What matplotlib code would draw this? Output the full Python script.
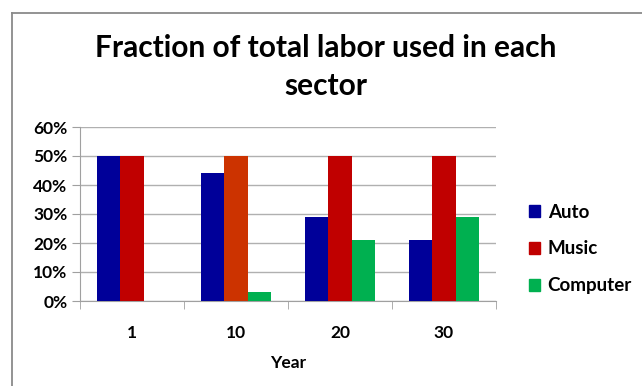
import numpy as np
import matplotlib
matplotlib.use("Agg")
import matplotlib.pyplot as plt
from matplotlib.patches import Rectangle
from matplotlib.lines import Line2D

# data
years = ["1", "10", "20", "30"]
auto = [50, 44, 29, 21]
music = [50, 50, 50, 50]
computer = [0, 3, 21, 29]
series_names = ["Auto", "Music", "Computer"]
yticks = [0, 10, 20, 30, 40, 50, 60]

c_auto = "#000099"
c_music = "#C00000"
c_computer = "#00B050"
music_colors = [c_music, "#CC3300", c_music, c_music]

plt.rcParams['font.family'] = ['Lato', 'DejaVu Sans']

fig = plt.figure(figsize=(6.42, 3.86), dpi=100)

# outer chart frame
fig.add_artist(Line2D([12 / 642, 12 / 642], [0, 1 - 13 / 386], color="#8a8a8a", lw=1.3))
fig.add_artist(Line2D([12 / 642, 1], [1 - 13 / 386, 1 - 13 / 386], color="#8a8a8a", lw=1.3))

ax = fig.add_axes([80 / 642, 1 - 301 / 386, 416 / 642, 174 / 386])

x = np.arange(len(years))
w = 1 / 4.5
ax.bar(x - w, auto, w, color=c_auto, zorder=3)
ax.bar(x, music, w, color=music_colors, zorder=3)
ax.bar(x + w, computer, w, color=c_computer, zorder=3)

ax.set_xlim(-0.5, len(years) - 0.5)
ax.set_ylim(0, 60)
ax.set_yticks(yticks)
ax.set_yticklabels([f"{v}%" for v in yticks], fontsize=12.5, fontweight="bold")
ax.yaxis.grid(True, color="#b0b0b0", lw=1, zorder=0)

ax.set_xticks(x)
ax.set_xticklabels(years, fontsize=12.5, fontweight="bold")
ax.tick_params(axis="x", length=0, pad=17)
ax.set_xticks(np.arange(-0.5, len(years)), minor=True)
ax.tick_params(axis="x", which="minor", length=6, color="#a0a0a0")
ax.tick_params(axis="y", length=6, color="#a0a0a0", pad=3)

for s in ["top", "right"]:
    ax.spines[s].set_visible(False)
for s in ["left", "bottom"]:
    ax.spines[s].set_color("#a0a0a0")

ax.set_xlabel("Year", fontsize=12.5, fontweight="bold", labelpad=10)

fig.text(326 / 642, 1 - 67 / 386, "Fraction of total labor used in each\nsector",
         ha="center", va="center", fontsize=21.5, fontweight="bold", linespacing=1.4)

# legend
handles = [Rectangle((0, 0), 1, 1, color=c) for c in [c_auto, c_music, c_computer]]
fig.legend(handles, series_names, loc="center left", bbox_to_anchor=(512 / 642, 1 - 249 / 386),
           frameon=False, prop={"size": 13.5, "weight": "bold"}, handlelength=0.6,
           handleheight=0.6, handletextpad=0.4, labelspacing=1.05)

fig.savefig("out.png", dpi=100)
